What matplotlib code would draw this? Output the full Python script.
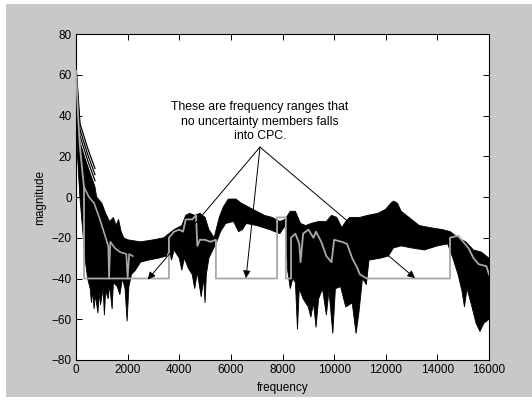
import matplotlib
matplotlib.use('Agg')
import matplotlib.pyplot as plt
from matplotlib.patches import Rectangle

plt.rcParams['font.family'] = ['Liberation Sans', 'DejaVu Sans']
plt.rcParams['font.size'] = 8.5

# upper edge of the black band of uncertainty members (frequency, dB)
up_f = [0, 40, 80, 155, 350, 540, 735, 760, 800, 1000, 1150, 1300, 1450, 1550,
        1650, 1750, 1850, 2000, 2500, 3000, 3400, 3600, 3800, 4100, 4250, 4400,
        4600, 4800, 5000, 5150, 5350, 5550, 5700, 5900, 6200, 6400, 6700, 7000,
        7300, 7600, 7900, 8100, 8300, 8500, 8700, 8900, 9100, 9400, 9700, 9900,
        10100, 10300, 10450, 10600, 11000, 11300, 11700, 12000, 12200, 12300,
        12450, 12600, 12900, 13300, 13700, 14200, 14500, 14800, 15100, 15400,
        15700, 16000]
up_v = [55, 48, 40, 27, 19, 12, 5, 3, 0, -3, -8, -12, -10, -14,
        -11, -17, -20, -21, -22, -21, -20, -18, -16, -14, -9, -8,
        -9, -8, -10, -16, -20, -10, -5, -1, -1, -3, -5, -7,
        -9, -10, -12, -11, -7, -7, -13, -14, -13, -12, -12, -9,
        -10, -15, -12, -10, -10, -9, -8, -6, -3, -2,
        -3, -7, -10, -14, -15, -16, -17, -20, -22, -26,
        -27, -30]

# lower edge of the band, with the deep notches
lo_f = [0, 60, 150, 250, 350, 450, 550, 600, 650, 700, 750, 850, 900, 950,
        1050, 1100, 1150, 1250, 1300, 1400, 1450, 1600, 1700, 1800, 1900, 1980,
        2050, 2150, 2300, 2500, 2800, 3200, 3500, 3600, 3700, 3800, 4000, 4100,
        4200, 4350, 4500, 4600, 4700, 4850, 4950, 5000, 5050, 5150, 5300, 5450,
        5600, 5800, 6100, 6300, 6450, 6600, 7000, 7500, 7900, 8100, 8200, 8300,
        8400, 8500, 8580, 8650, 8800, 9000, 9100, 9200, 9300, 9400, 9550, 9700,
        9800, 9950, 10050, 10250, 10450, 10700, 10850, 10950, 11100, 11250,
        11350, 11800, 12100, 12300, 12600, 13000, 13500, 14000, 14400, 14600,
        14800, 14950, 15050, 15150, 15300, 15500, 15650, 15800, 16000]
lo_v = [50, 20, 0, -15, -30, -40, -45, -52, -46, -55, -48, -57, -47, -53,
        -45, -58, -46, -50, -43, -55, -42, -44, -48, -40, -45, -61,
        -44, -38, -36, -32, -31, -30, -29, -25, -31, -26, -30, -36,
        -30, -35, -38, -45, -37, -49, -40, -52, -38, -30, -26, -22,
        -17, -13, -12, -17, -16, -13, -14, -16, -18, -14, -36, -45,
        -40, -42, -65, -45, -50, -54, -59, -52, -64, -50, -45, -58,
        -46, -67, -45, -44, -54, -52, -67, -58, -40, -43,
        -31, -30, -29, -25, -24, -25, -26, -24, -23, -30,
        -38, -46, -54, -45, -52, -62, -66, -62, -60]

# separate members fanning out above the band at low frequency
fan_f = [0, 155, 450, 735]
fan_top = [65, 36, 24, 14]
fan_mid = [62, 33, 21, 11]
fan_low = [58, 30, 18, 8]

# CPC line (grey): -40 where no member falls into the CPC
cpc_f = [0, 80, 150, 250, 310, 310, 3600, 3600, 3800, 4000, 4150, 4250, 4500,
         4650, 4700, 4800, 5000, 5200, 5420, 5420, 7790, 7790, 8130, 8130,
         8330, 8330, 8500, 8650, 8700, 8800, 9000, 9200, 9300, 9500, 9700,
         9900, 10000, 10300, 10500, 10700, 10900, 11000, 11270, 14490, 14490,
         14800, 15000, 15200, 15400, 15600, 15900, 16000]
cpc_v = [62, 40, 25, 12, 5, -40, -40, -20, -17, -16, -17, -11, -11,
         -9, -24, -21, -21, -22, -21, -40, -40, -10, -10, -40,
         -40, -20, -18, -23, -32, -18, -16, -20, -17, -22, -29,
         -32, -21, -22, -23, -30, -35, -38, -40, -40, -20,
         -19, -22, -25, -30, -33, -34, -38]

# nominal grey curve showing through the band at low frequency
nom_f = [310, 500, 700, 900, 1100, 1250, 1280, 1330, 1500, 1700, 1950, 2000, 2060, 2200]
nom_v = [5, 0, -3, -10, -18, -24, -40, -22, -25, -27, -28, -40, -28, -29]

note = "These are frequency ranges that\nno uncertainty members falls\ninto CPC."
note_xy = (7130, 37)
arrow_from = (7128, 24.5)
arrow_to = [(2780, -40.5), (6586, -39.8), (13133, -39.8)]

fig = plt.figure(figsize=(5.32, 4.0), dpi=100, facecolor='white')
fig.patches.append(Rectangle((6 / 532, 3 / 400), 526 / 532, 393 / 400,
                             transform=fig.transFigure, facecolor='#c8c8c8',
                             edgecolor='none', zorder=-5))
ax = fig.add_axes([76 / 532, 40 / 400, 413 / 532, 326 / 400])

# band as one polygon: upper edge left to right, lower edge back
ax.fill(up_f + lo_f[::-1], up_v + lo_v[::-1], facecolor='black',
        edgecolor='black', lw=0.6, zorder=2)
for v in (fan_top, fan_mid, fan_low):
    ax.plot(fan_f, v, color='black', lw=0.9, zorder=2)
ax.plot(nom_f, nom_v, color='#a8a8a8', lw=1.2, zorder=3)
ax.plot(cpc_f, cpc_v, color='#a8a8a8', lw=1.3, zorder=3)

ax.text(note_xy[0], note_xy[1], note, ha='center', va='center',
        fontsize=8.8, linespacing=1.25, zorder=5)
for tip in arrow_to:
    ax.annotate('', xy=tip, xytext=arrow_from,
                arrowprops=dict(arrowstyle='-|>', color='black', lw=0.7,
                                mutation_scale=11, shrinkA=0, shrinkB=0),
                zorder=5)

ax.set_xlim(0, 16000)
ax.set_ylim(-80, 80)
ax.set_xticks(range(0, 16001, 2000))
ax.set_yticks(range(-80, 81, 20))
ax.tick_params(direction='in', length=4, width=0.7, top=True, right=True, pad=3)
for s in ax.spines.values():
    s.set_linewidth(0.8)
ax.set_xlabel('frequency', labelpad=4)
ax.set_ylabel('magnitude', labelpad=4)

fig.savefig('out.png', dpi=100, facecolor='white')
